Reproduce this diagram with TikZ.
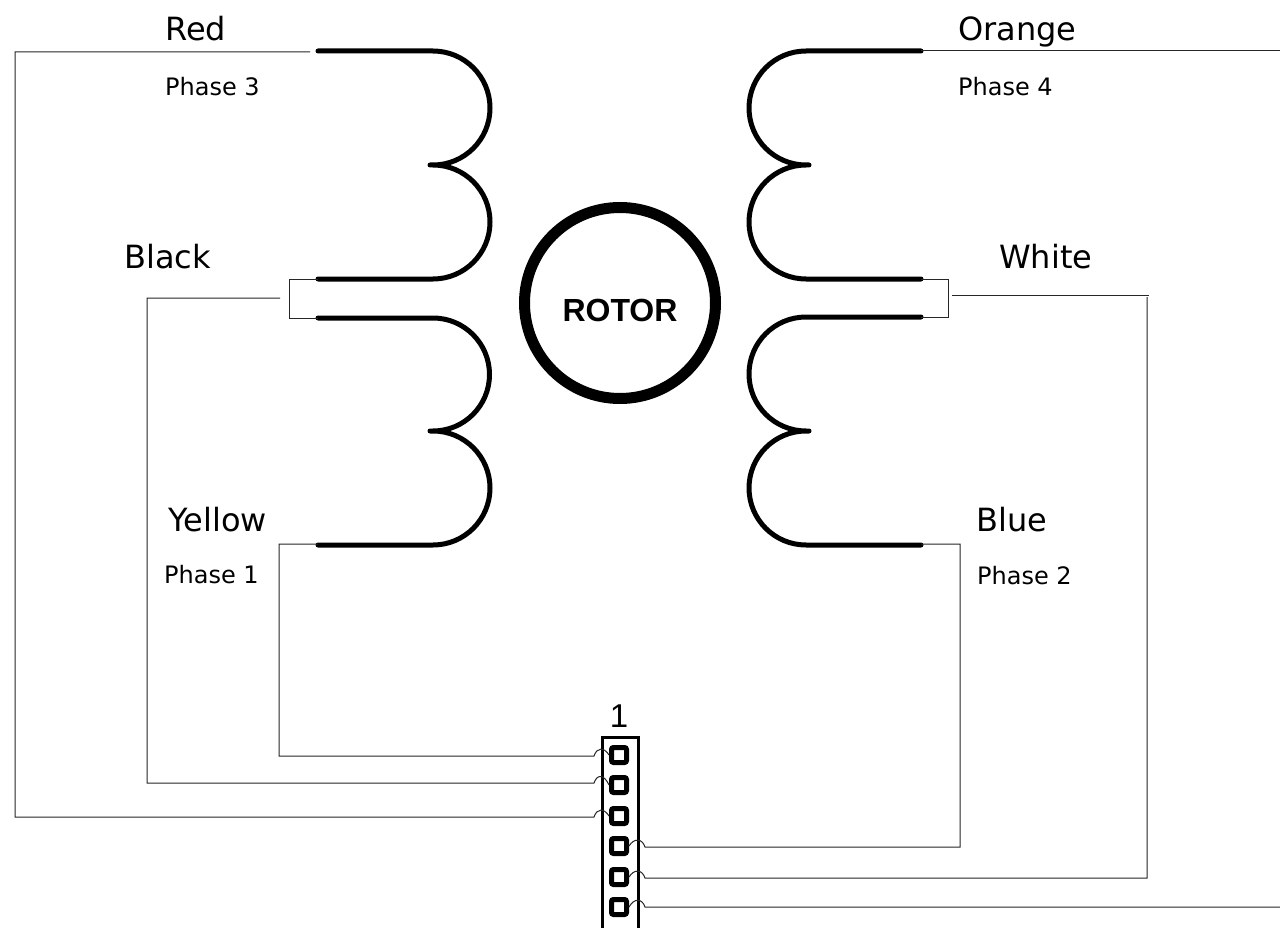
\documentclass[tikz,border=0pt]{standalone}
\usepackage{fontspec}
\setmainfont{DejaVu Sans}
\newfontfamily\arialf{Liberation Sans}
\tikzset{
  coil/.style={line width=5pt,line cap=round,line join=miter,black},
  wire/.style={line width=1pt,black!85},
  big/.style={font=\fontsize{32}{38}\selectfont,anchor=base west,inner sep=0pt},
  small/.style={font=\fontsize{24}{28}\selectfont,anchor=base west,inner sep=0pt},
  pin/.style={draw,line width=5pt,rounded corners=2pt,minimum size=15pt,inner sep=0pt,fill=white},
}
\begin{document}
\begin{tikzpicture}[x=1pt,y=-1pt]
\useasboundingbox[fill=white] (0,0) rectangle (1280,928);
% coil terminals
\coordinate (lt1) at (318,51);
\coordinate (lt2) at (318,279);
\coordinate (lb1) at (318,318);
\coordinate (lb2) at (318,545);
\coordinate (rt1) at (921,51);
\coordinate (rt2) at (921,279);
\coordinate (rb1) at (921,317);
\coordinate (rb2) at (921,545);
% coils
\draw[coil] (lt1) -- (433,51) arc[start angle=-90,end angle=90,radius=57] -- ++(-3,0) ++(3,0) arc[start angle=-90,end angle=90,radius=57] -- (lt2);
\draw[coil] (lb1) -- (433,318) arc[start angle=-90,end angle=90,radius=56.5] -- ++(-3,0) ++(3,0) arc[start angle=-90,end angle=90,radius=57] -- (lb2);
\draw[coil] (rt1) -- (806,51) arc[start angle=-90,end angle=-270,radius=57] -- ++(3,0) ++(-3,0) arc[start angle=-90,end angle=-270,radius=57] -- (rt2);
\draw[coil] (rb1) -- (806,317) arc[start angle=-90,end angle=-270,radius=57] -- ++(3,0) ++(-3,0) arc[start angle=-90,end angle=-270,radius=57] -- (rb2);
% rotor
\node[circle,draw,line width=11pt,minimum size=191pt,inner sep=0pt] (rotor) at (620,303) {};
\node[font=\arialf\bfseries\fontsize{32}{38}\selectfont,inner sep=0pt] (rotortext) at (620,310) {ROTOR};
% connector
\draw[line width=3pt,line join=miter] (602,930) -- (602,737) -- (638,737) -- (638,930);
\node[pin] (p1) at (619,755) {};
\node[pin] (p2) at (619,785) {};
\node[pin] (p3) at (619,816) {};
\node[pin] (p4) at (619,846) {};
\node[pin] (p5) at (619,877) {};
\node[pin] (p6) at (619,907) {};
\node[font=\arialf\fontsize{33}{38}\selectfont,inner sep=0pt] (one) at (619,716) {1};
% free ends
\coordinate (blk) at (280,298);
\coordinate (wht) at (952,295);
\coordinate (whc) at (1149,295);
\coordinate (or) at (1280,51);
\coordinate (bot) at (1280,907);
% wires
\draw[wire] (310,52) -- (15,52) -- (15,817) -- (594,817) .. controls (597,808) and (604,808) .. (p3.west);
\draw[wire] (lt2) -- (289,279) -- (289,318) -- (lb1);
\draw[wire] (blk) -- (147,298) -- (147,783) -- (594,783) .. controls (597,774) and (604,774) .. (p2.west);
\draw[wire] (lb2) ++(0,-1) -- (279,544) -- (279,756) -- (594,756) .. controls (597,747) and (604,747) .. (p1.west);
\draw[wire] (rb2) ++(0,-1) -- (960,544) -- (960,847) -- (645,847) .. controls (642,838) and (634,838) .. (p4.east);
\draw[wire] (rt2) -- (948,279) -- (948,317) -- (rb1);
\draw[wire] (wht) -- (whc);
\draw[wire] (1147,297) -- (1147,878) -- (645,878) .. controls (642,869) and (634,869) .. (p5.east);
\draw[wire] (rt1) -- (or);
\draw[wire] (bot) -- (645,907) .. controls (642,898) and (634,898) .. (p6.east);
% labels
\node[big] (tred) at (165,41) {Red};
\node[small] (tp3) at (165,96) {Phase 3};
\node[big] (torange) at (958,41) {Orange};
\node[small] (tp4) at (958,96) {Phase 4};
\node[big] (tblack) at (124,269) {Black};
\node[big] (twhite) at (999,269) {White};
\node[big] (tyellow) at (168,531) {Yellow};
\node[small] (tp1) at (164,583) {Phase 1};
\node[big] (tblue) at (976,531) {Blue};
\node[small] (tp2) at (977,584) {Phase 2};
\end{tikzpicture}
\end{document}
